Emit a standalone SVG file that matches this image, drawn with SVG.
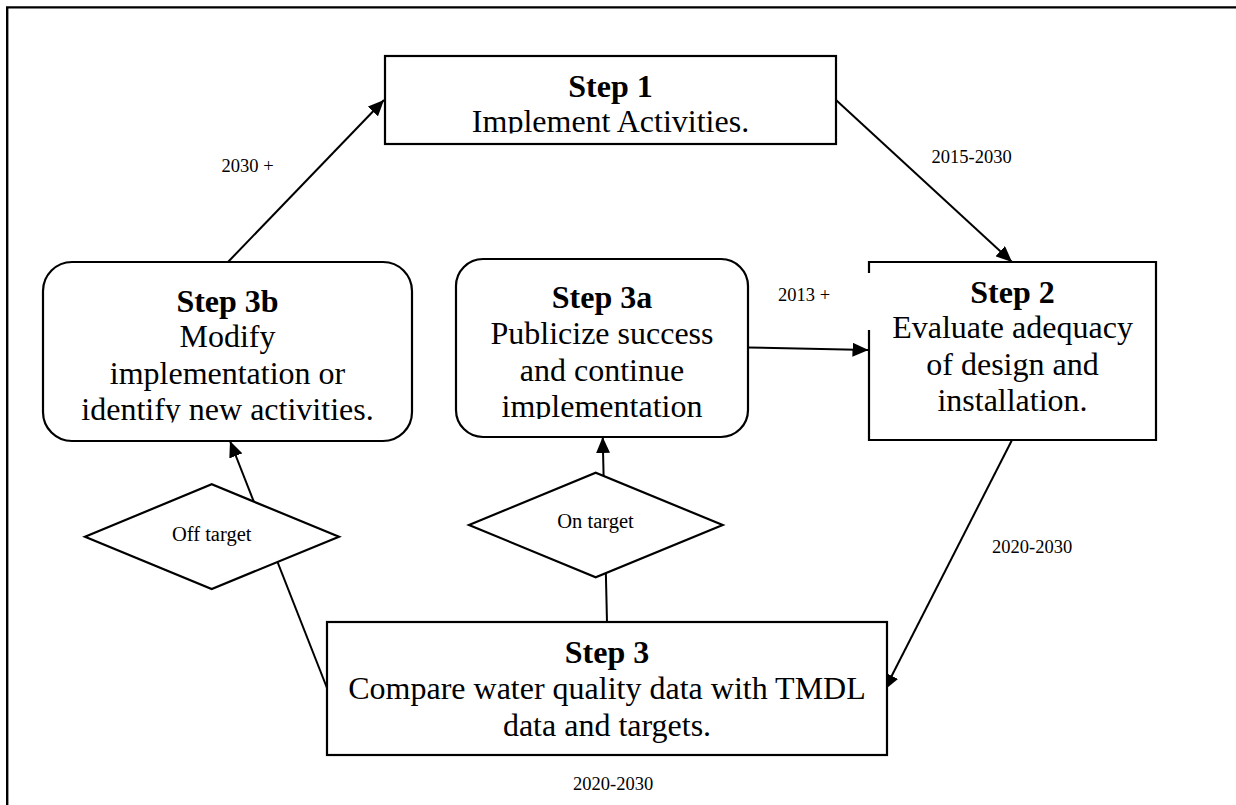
<svg xmlns="http://www.w3.org/2000/svg" width="1236" height="805" viewBox="0 0 1236 805">
  <style>
    .box { fill: #ffffff; stroke: #000000; stroke-width: 2.2; }
    .edge { fill: none; stroke: #000000; stroke-width: 2; }
    .frame { fill: none; stroke: #000000; stroke-width: 2.4; }
    .title { font-family: "Liberation Serif", "Times New Roman", serif; font-weight: bold; font-size: 32px; text-anchor: middle; fill: #000; }
    .body { font-family: "Liberation Serif", "Times New Roman", serif; font-size: 32px; text-anchor: middle; fill: #000; }
    .cond { font-family: "Liberation Serif", "Times New Roman", serif; font-size: 20.5px; text-anchor: middle; fill: #000; }
    .when { font-family: "Liberation Serif", "Times New Roman", serif; font-size: 18.5px; fill: #000; }
  </style>
  <defs>
    <marker id="arrow" markerUnits="userSpaceOnUse" markerWidth="17" markerHeight="14" refX="16" refY="7" orient="auto">
      <path d="M0,0 L16,7 L0,14 Z" fill="#000"/>
    </marker>
    <!-- text boxes cut off their last line at the bottom edge -->
    <clipPath id="clip1" clipPathUnits="userSpaceOnUse"><rect x="385" y="56" width="451" height="77.5"/></clipPath>
    <clipPath id="clip3a" clipPathUnits="userSpaceOnUse"><rect x="456" y="259" width="292" height="160"/></clipPath>
    <clipPath id="clip3b" clipPathUnits="userSpaceOnUse"><rect x="43" y="262" width="369" height="160.5"/></clipPath>
  </defs>

  <rect width="1236" height="805" fill="#ffffff"/>

  <!-- page frame: top and left rules -->
  <path class="frame" d="M7.2,805 L7.2,7.4 L1236,7.4"/>

  <!-- connectors (drawn first so boxes and diamonds sit on top) -->
  <g id="connectors">
    <line class="edge" x1="228" y1="262" x2="384" y2="100" marker-end="url(#arrow)"/>
    <line class="edge" x1="836" y1="100" x2="1012" y2="262" marker-end="url(#arrow)"/>
    <line class="edge" x1="748" y1="347.5" x2="868.5" y2="350" marker-end="url(#arrow)"/>
    <line class="edge" x1="1012" y1="440" x2="884.5" y2="690" marker-end="url(#arrow)"/>
    <line class="edge" x1="607" y1="622" x2="602.7" y2="437" marker-end="url(#arrow)"/>
    <line class="edge" x1="327" y1="688" x2="230" y2="441" marker-end="url(#arrow)"/>

    <text class="when" x="221.5" y="171.5">2030 +</text>
    <text class="when" x="931.5" y="162.5">2015-2030</text>
    <text class="when" x="778" y="300.5">2013 +</text>
    <text class="when" x="992" y="553">2020-2030</text>
    <text class="when" x="573" y="790">2020-2030</text>
  </g>

  <g id="step1">
    <rect class="box" x="385" y="56" width="451" height="88"/>
    <g clip-path="url(#clip1)">
      <text class="title" x="610.5" y="97">Step 1</text>
      <text class="body" x="610.5" y="132">Implement Activities.</text>
    </g>
  </g>

  <g id="step2">
    <rect x="869" y="262" width="287" height="178" fill="#ffffff"/>
    <path class="box" fill="none" d="M869,273 L869,262 L1156,262 L1156,440 L869,440 L869,330"/>
    <text class="title" x="1012.5" y="302.5">Step 2</text>
    <text class="body" x="1012.5" y="338">Evaluate adequacy</text>
    <text class="body" x="1012.5" y="374.5">of design and</text>
    <text class="body" x="1012.5" y="411">installation.</text>
  </g>

  <g id="step3a">
    <rect class="box" x="456" y="259" width="292" height="178" rx="27" ry="27"/>
    <g clip-path="url(#clip3a)">
      <text class="title" x="602" y="308">Step 3a</text>
      <text class="body" x="602" y="344">Publicize success</text>
      <text class="body" x="602" y="381">and continue</text>
      <text class="body" x="602" y="417">implementation</text>
    </g>
  </g>

  <g id="step3b">
    <rect class="box" x="43" y="262" width="369" height="179" rx="29" ry="29"/>
    <g clip-path="url(#clip3b)">
      <text class="title" x="227.5" y="311.5">Step 3b</text>
      <text class="body" x="227.5" y="347">Modify</text>
      <text class="body" x="227.5" y="383.5">implementation or</text>
      <text class="body" x="227.5" y="420">identify new activities.</text>
    </g>
  </g>

  <g id="on-target">
    <polygon class="box" points="469,525 595.7,472.7 722.7,525 595.7,577.3"/>
    <text class="cond" x="595.5" y="528">On target</text>
  </g>

  <g id="off-target">
    <polygon class="box" points="85,536.7 211.7,484.3 339,536.7 211.7,589"/>
    <text class="cond" x="211.7" y="541">Off target</text>
  </g>

  <g id="step3">
    <rect class="box" x="327" y="622" width="560" height="133"/>
    <text class="title" x="607" y="663">Step 3</text>
    <text class="body" x="607" y="699">Compare water quality data with TMDL</text>
    <text class="body" x="607" y="736">data and targets.</text>
  </g>
</svg>
